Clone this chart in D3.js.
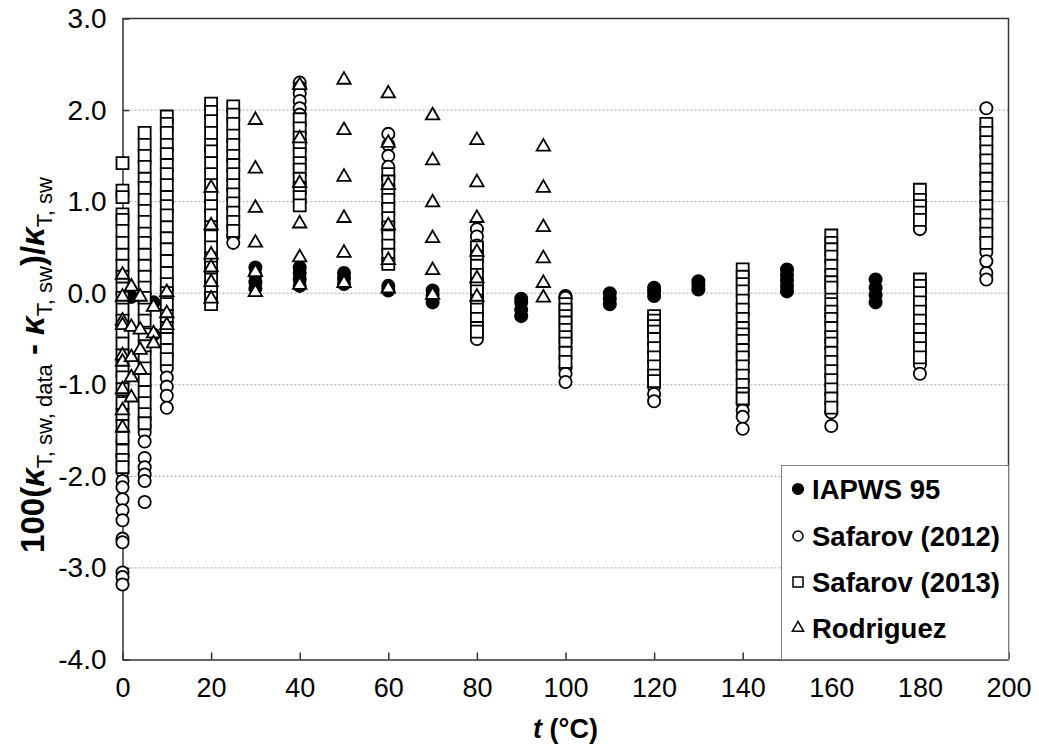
<!DOCTYPE html>
<html>
<head>
<meta charset="utf-8">
<script src="https://cdn.jsdelivr.net/npm/d3@7"></script>
<style>
  body { margin: 0; background: #fff; }
  text { font-family: "Liberation Sans", Arial, sans-serif; fill: #000; }
</style>
</head>
<body>
<svg id="chart" width="1039" height="750"></svg>
<script>
// t (°C) and deviation columns
const iapws = [
  [0, [-0.90]], [2, [-0.04]], [5, [-0.08, -0.12]], [7, [-0.10, -0.45]],
  [30, [0.05, 0.12, 0.20, 0.28]], [40, [0.08, 0.15, 0.22, 0.28]], [50, [0.10, 0.16, 0.22]],
  [60, [0.03, 0.08]], [70, [-0.10, -0.02, 0.03]], [90, [-0.25, -0.18, -0.10, -0.06]],
  [100, [-0.03, -0.05]], [110, [-0.12, -0.06, 0.0]], [120, [-0.03, 0.02, 0.06]],
  [130, [0.04, 0.09, 0.13]], [150, [0.02, 0.08, 0.14, 0.20, 0.26]], [170, [-0.10, -0.02, 0.06, 0.15]]
];

const safarov2012 = [
  [0, [-1.62, -1.78, -1.95, -2.05, -2.12, -2.25, -2.37, -2.48, -2.68, -2.72, -3.05, -3.10, -3.18]],
  [5, [-1.45, -1.52, -1.62, -1.80, -1.90, -1.98, -2.05, -2.28]],
  [10, [-0.82, -0.92, -1.02, -1.12, -1.25]],
  [20, [0.25, 0.12]],
  [25, [0.62, 0.55]],
  [40, [2.30, 2.25, 2.18, 2.10, 2.02, 1.95]],
  [60, [1.74, 1.62, 1.50, 1.38, 1.28]],
  [80, [0.70, 0.62, 0.52, -0.50]],
  [100, [-0.05, -0.82, -0.88, -0.97]],
  [120, [-1.02, -1.10, -1.18]],
  [140, [-1.20, -1.28, -1.35, -1.48]],
  [160, [-0.03, -1.30, -1.45]],
  [180, [0.70, -0.78, -0.88]],
  [195, [2.02, 0.45, 0.35, 0.22, 0.15]]
];

const safarov2013 = [
  [0, [1.42, 1.12, 1.05, 0.86, 0.80, 0.68, 0.55, 0.42, 0.30, 0.18, 0.05, -0.05, -0.18, -0.30, -0.42,
       -0.55, -0.68, -0.80, -0.92, -1.05, -1.20, -1.33, -1.45, -1.58, -1.72, -1.82, -1.90]],
  [5, [1.75, 1.62, 1.50, 1.38, 1.25, 1.15, 1.02, 0.90, 0.78, 0.65, 0.55, 0.42, 0.30, 0.18, 0.06,
       -0.05, -0.18, -0.30, -0.45, -0.58, -0.70, -0.82, -0.95, -1.08, -1.20, -1.32, -1.42]],
  [10, [1.93, 1.85, 1.75, 1.62, 1.52, 1.40, 1.30, 1.18, 1.05, 0.95, 0.85, 0.72, 0.60, 0.48, 0.35,
        0.22, 0.10, 0.0, -0.12, -0.25, -0.38, -0.50, -0.62, -0.72]],
  [20, [2.07, 1.98, 1.88, 1.75, 1.62, 1.55, 1.42, 1.30, 1.18, 1.05, 0.95, 0.85, 0.72, 0.62, 0.50,
        0.38, 0.28, 0.15, 0.05, -0.05, -0.12]],
  [25, [2.04, 1.95, 1.85, 1.72, 1.62, 1.50, 1.40, 1.30, 1.18, 1.08, 0.98, 0.88, 0.78, 0.68]],
  [40, [1.90, 1.80, 1.70, 1.62, 1.52, 1.42, 1.35, 1.25, 1.15, 1.05, 0.96]],
  [60, [1.30, 1.22, 1.12, 1.02, 0.92, 0.82, 0.72, 0.62, 0.52, 0.42, 0.32]],
  [80, [0.50, 0.40, 0.30, 0.20, 0.10, 0.02, -0.08, -0.18, -0.28, -0.38, -0.42]],
  [100, [-0.12, -0.18, -0.25, -0.32, -0.40, -0.48, -0.55, -0.65, -0.75]],
  [120, [-0.25, -0.30, -0.36, -0.42, -0.50, -0.60, -0.70, -0.80, -0.90, -0.96]],
  [140, [0.26, 0.18, 0.10, 0.02, -0.08, -0.18, -0.28, -0.38, -0.45, -0.52, -0.62, -0.70, -0.80,
         -0.90, -1.00, -1.10, -1.15]],
  [160, [0.63, 0.55, 0.48, 0.40, 0.30, 0.20, 0.12, 0.06, -0.12, -0.20, -0.28, -0.38, -0.48, -0.55,
         -0.65, -0.75, -0.85, -0.95, -1.05, -1.15, -1.25]],
  [180, [1.13, 1.02, 0.95, 0.88, 0.80, 0.15, 0.08, 0.0, -0.10, -0.20, -0.30, -0.40, -0.50, -0.60, -0.70]],
  [195, [1.85, 1.75, 1.65, 1.55, 1.45, 1.35, 1.25, 1.15, 1.05, 0.95, 0.85, 0.75, 0.65, 0.55]]
];

const rodriguez = [
  [0, [0.20, -0.04, -0.30, -0.35, -0.68, -0.75, -1.05, -1.28, -1.47]],
  [2, [0.07, -0.37, -0.70, -0.92, -1.14]],
  [4, [-0.04, -0.40, -0.62, -0.84]],
  [7, [-0.15, -0.44, -0.55]],
  [10, [0.01, -0.22, -0.35]],
  [20, [1.15, 0.74, 0.42, 0.28, 0.12, -0.06]],
  [30, [1.89, 1.36, 0.93, 0.55, 0.23, 0.01]],
  [40, [2.27, 1.69, 1.20, 0.76, 0.39, 0.09]],
  [50, [2.33, 1.78, 1.27, 0.82, 0.44, 0.11]],
  [60, [2.18, 1.64, 1.18, 0.74, 0.36, 0.05]],
  [70, [1.94, 1.45, 0.99, 0.60, 0.25, -0.02]],
  [80, [1.67, 1.21, 0.82, 0.45, 0.16, -0.04]],
  [95, [1.60, 1.15, 0.72, 0.38, 0.11, -0.05]]
];

const legendLabels = ['IAPWS 95', 'Safarov (2012)', 'Safarov (2013)', 'Rodriguez'];
const xTicks = d3.range(0, 201, 20);
const yTicks = d3.range(-4, 3.01, 1);

const margin = {top: 18.5, right: 30.5, bottom: 90.5, left: 122.5};
const width = 1039, height = 750;

const svg = d3.select('#chart');

const x = d3.scaleLinear().domain([0, 200]).range([margin.left, width - margin.right]);
const y = d3.scaleLinear().domain([-4, 3]).range([height - margin.bottom, margin.top]);

const flatten = series => series.flatMap(([t, vals]) => vals.map(v => ({t, v})));

// grid
svg.append('g')
  .selectAll('line')
  .data(yTicks.filter(d => d > -4 && d < 3))
  .join('line')
  .attr('x1', x(0)).attr('x2', x(200))
  .attr('y1', d => y(d)).attr('y2', d => y(d))
  .attr('stroke', '#a6a6a6')
  .attr('stroke-dasharray', '2,2');

// axes with inward ticks
const xAxis = svg.append('g')
  .attr('transform', `translate(0,${y(-4)})`)
  .call(d3.axisBottom(x).tickValues(xTicks).tickSizeInner(-7).tickSizeOuter(0).tickPadding(18));
const yAxis = svg.append('g')
  .attr('transform', `translate(${x(0)},0)`)
  .call(d3.axisLeft(y).tickValues(yTicks).tickFormat(d => d.toFixed(1)).tickSizeInner(-7).tickSizeOuter(0).tickPadding(16));

[xAxis, yAxis].forEach(g => {
  g.select('.domain').attr('stroke', '#333').attr('stroke-width', 1.5);
  g.selectAll('.tick line').attr('stroke', '#333').attr('stroke-width', 1.5);
  g.selectAll('.tick text').attr('font-size', 27).attr('fill', '#000')
    .style('font-family', '"Liberation Sans", Arial, sans-serif');
});
yAxis.selectAll('.tick text').attr('font-size', 28);

// top and right frame
svg.append('path')
  .attr('d', `M${x(0)},${y(3)}H${x(200)}V${y(-4)}`)
  .attr('fill', 'none').attr('stroke', '#333').attr('stroke-width', 1.5);

const symCircle = d3.symbol().type(d3.symbolCircle).size(118);
const symSquare = d3.symbol().type(d3.symbolSquare).size(144);
const symTriangle = d3.symbol().type(d3.symbolTriangle).size(78);

function drawSeries(data, sym, fill) {
  svg.append('g')
    .selectAll('path')
    .data(flatten(data))
    .join('path')
    .attr('transform', d => `translate(${x(d.t)},${y(d.v)})`)
    .attr('d', sym)
    .attr('fill', fill)
    .attr('stroke', '#000')
    .attr('stroke-width', 1.8);
}

drawSeries(iapws, symCircle, '#000');
drawSeries(safarov2012, symCircle, '#fff');
drawSeries(safarov2013, symSquare, '#fff');
drawSeries(rodriguez, symTriangle, '#fff');

// legend
const lg = svg.append('g');
lg.append('rect')
  .attr('x', 781.5).attr('y', 465.5)
  .attr('width', x(200) - 781.5).attr('height', y(-4) - 465.5)
  .attr('fill', '#fff').attr('stroke', '#808080').attr('stroke-width', 1);

const legendSyms = [
  {sym: d3.symbol().type(d3.symbolCircle).size(90), fill: '#000'},
  {sym: d3.symbol().type(d3.symbolCircle).size(80), fill: '#fff'},
  {sym: d3.symbol().type(d3.symbolSquare).size(100), fill: '#fff'},
  {sym: d3.symbol().type(d3.symbolTriangle).size(55), fill: '#fff'}
];
const rowY = [489, 536, 582, 628];

legendLabels.forEach((label, i) => {
  lg.append('path')
    .attr('transform', `translate(798,${rowY[i]})`)
    .attr('d', legendSyms[i].sym)
    .attr('fill', legendSyms[i].fill)
    .attr('stroke', '#000').attr('stroke-width', 1.5);
  lg.append('text')
    .attr('x', 812).attr('y', rowY[i] + 10)
    .attr('font-size', 27.5).attr('font-weight', 'bold')
    .text(label);
});

// axis titles
svg.append('text')
  .attr('x', x(100)).attr('y', 738)
  .attr('text-anchor', 'middle')
  .attr('font-size', 27).attr('font-weight', 'bold')
  .call(t => {
    t.append('tspan').attr('font-style', 'italic').text('t');
    t.append('tspan').text(' (°C)');
  });

const yl = svg.append('text')
  .attr('transform', 'translate(44,365) rotate(-90)')
  .attr('text-anchor', 'middle')
  .attr('font-size', 33).attr('font-weight', 'bold');
yl.append('tspan').text('100(');
yl.append('tspan').attr('font-style', 'italic').text('κ');
yl.append('tspan').attr('font-size', 22).attr('font-weight', 'normal').attr('dy', 8).text('T, sw, data');
yl.append('tspan').attr('dy', -8).text(' - ');
yl.append('tspan').attr('font-style', 'italic').text('κ');
yl.append('tspan').attr('font-size', 22).attr('font-weight', 'normal').attr('dy', 8).text('T, sw');
yl.append('tspan').attr('dy', -8).text(')/');
yl.append('tspan').attr('font-style', 'italic').text('κ');
yl.append('tspan').attr('font-size', 22).attr('font-weight', 'normal').attr('dy', 8).text('T, sw');
</script>
</body>
</html>
